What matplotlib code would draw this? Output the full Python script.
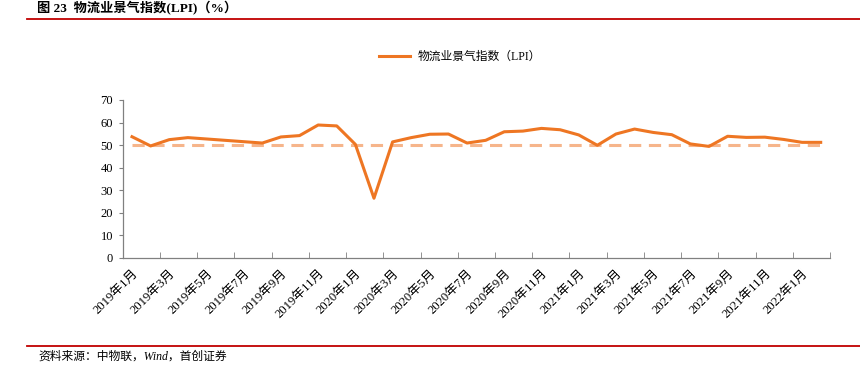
import matplotlib
matplotlib.use("Agg")
import matplotlib.pyplot as plt
from matplotlib.ticker import FixedLocator

plt.rcParams['font.family'] = ['Liberation Serif', 'Noto Sans CJK SC']
plt.rcParams['axes.unicode_minus'] = False

# monthly LPI, 2019-01 .. 2022-02
months = []
for y in (2019, 2020, 2021, 2022):
    for m in range(1, 13):
        months.append(f"{y}年{m}月")
months = months[:38]

lpi = [53.7, 49.6, 52.4, 53.3, 52.7, 52.1, 51.5, 50.9, 53.6, 54.2,
       58.9, 58.5, 50.3, 26.4, 51.4, 53.3, 54.8, 54.9, 50.9, 52.1,
       55.9, 56.2, 57.4, 56.8, 54.5, 49.9, 54.9, 57.1, 55.6, 54.6,
       50.5, 49.4, 53.9, 53.4, 53.5, 52.5, 51.2, 51.2]
threshold = [50] * len(lpi)

yticks = [0, 10, 20, 30, 40, 50, 60, 70]

line_color = '#EE7623'
dash_color = '#F6B58B'
grey = '#808080'
red = '#C00000'

fig = plt.figure(figsize=(8.6, 3.7), dpi=100)
ax = fig.add_axes([122.7 / 860, 1 - 257.7 / 370, (830 - 122.7) / 860, 157.7 / 370])

x = list(range(len(lpi)))
ax.plot(x, threshold, color=dash_color, lw=2.2, ls=(0, (4, 2.5)), zorder=2)
ax.plot(x, lpi, color=line_color, lw=2.2, label='物流业景气指数（LPI）', zorder=3)

ax.set_xlim(-0.5, len(lpi) - 0.5)
ax.set_ylim(0, 70)
ax.set_yticks(yticks)
ax.tick_params(axis='y', direction='out', length=3, color=grey, labelsize=9, pad=4)

ax.set_xticks(x[::2])
ax.set_xticklabels(months[::2], rotation=45, ha='right', rotation_mode='anchor', fontsize=9.2)
ax.tick_params(axis='x', which='major', length=0, pad=7)
ax.xaxis.set_minor_locator(FixedLocator([i + 0.5 for i in range(1, len(lpi), 2)]))
ax.tick_params(axis='x', which='minor', direction='in', length=4, color=grey)

for s in ('top', 'right'):
    ax.spines[s].set_visible(False)
for s in ('left', 'bottom'):
    ax.spines[s].set_color(grey)
    ax.spines[s].set_linewidth(0.9)

leg = fig.legend(loc='center', bbox_to_anchor=(460 / 860, 1 - 57 / 370), frameon=False,
                 fontsize=8.5, handlelength=2.6, handletextpad=0.6)

# header & footer
fig.text(37 / 860, 1 - 8 / 370, '图 23  物流业景气指数(LPI)（%）', fontsize=9.5, fontweight='bold',
         va='center', ha='left')
fig.add_artist(plt.Line2D([27 / 860, 1], [1 - 19 / 370, 1 - 19 / 370], color=red, lw=1.3))
fig.add_artist(plt.Line2D([27 / 860, 1], [1 - 346 / 370, 1 - 346 / 370], color=red, lw=1.3))
fig.text(38 / 860, 1 - 357 / 370, '资料来源：中物联，Wind，首创证券', fontsize=8.5, style='italic',
         va='center', ha='left')

fig.savefig('out.png', dpi=100)
